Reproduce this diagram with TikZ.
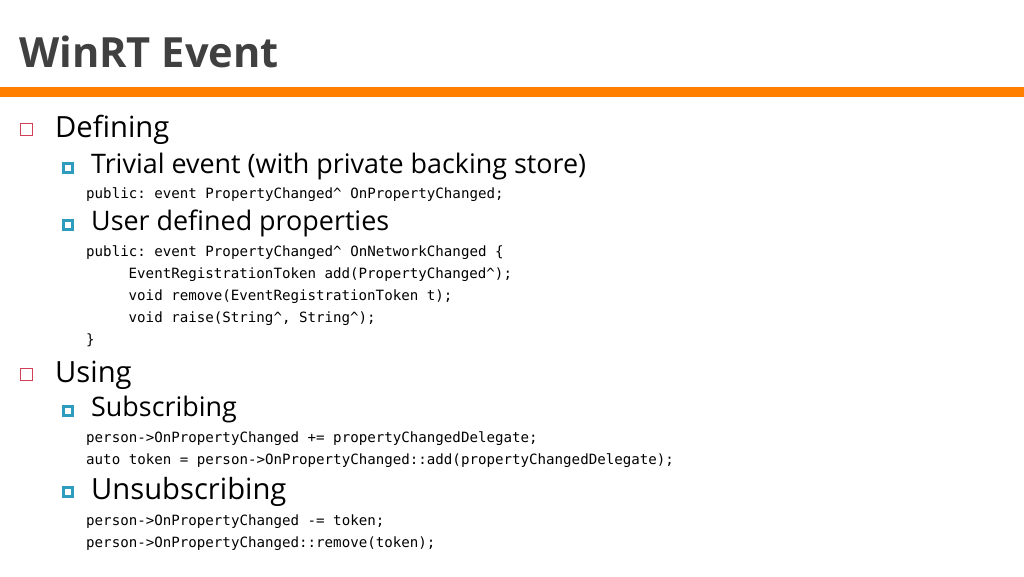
\documentclass[tikz,border=0pt]{standalone}
\usepackage{fontspec}
\setmainfont{Open Sans}
\setmonofont{DejaVu Sans Mono}
\definecolor{titlegray}{HTML}{404040}
\definecolor{barorange}{HTML}{FF8000}
\definecolor{bulred}{HTML}{D04058}
\definecolor{bulteal}{HTML}{2E9CBC}
\begin{document}
\begin{tikzpicture}[x=1pt,y=-1pt,
  lone/.style={anchor=base west,inner sep=0pt,font=\fontsize{29.2}{31}\selectfont},
  ltwo/.style={anchor=base west,inner sep=0pt,font=\fontsize{26.9}{29}\selectfont},
  codeline/.style={anchor=base west,inner sep=0pt,font=\ttfamily\fontsize{14.15}{16}\selectfont},
  redbul/.style={draw=bulred,line width=1.1pt},
  tealbul/.style={fill=bulteal}]
\useasboundingbox (0,0) rectangle (1024,576);
\fill[white] (0,0) rectangle (1024,576);
\node[anchor=base west,inner sep=0pt,text=titlegray,font=\bfseries\fontsize{41.6}{44}\selectfont] (title) at (19,67) {WinRT Event};
\fill[barorange] (0,87) rectangle (1024,96.5);
% level 1: Defining
\draw[redbul] (20.6,123.6) rectangle (32.4,135.4);
\node[lone] (defining) at (55,137) {Defining};
% level 2: Trivial
\fill[tealbul] (62,162) rectangle (74,174);
\fill[white] (65.3,165.3) rectangle (70.7,170.7);
\node[ltwo] (trivial) at (91,173) {Trivial event (with private backing store)};
\node[codeline] (c1) at (86,198) {public: event PropertyChanged\^{} OnPropertyChanged;};
% level 2: User defined
\fill[tealbul] (62,219) rectangle (74,231);
\fill[white] (65.3,222.3) rectangle (70.7,227.7);
\node[ltwo] (userdef) at (91,230) {User defined properties};
\node[codeline] (c2) at (86,256) {public: event PropertyChanged\^{} OnNetworkChanged \{};
\node[codeline] (c3) at (128.5,278) {EventRegistrationToken add(PropertyChanged\^{});};
\node[codeline] (c4) at (128.5,300) {void remove(EventRegistrationToken t);};
\node[codeline] (c5) at (128.5,322) {void raise(String\^{}, String\^{});};
\node[codeline] (c6) at (86,344) {\}};
% level 1: Using
\draw[redbul] (20.6,368.6) rectangle (32.4,380.4);
\node[lone] (using) at (55,382) {Using};
% Subscribing
\fill[tealbul] (62,405) rectangle (74,417);
\fill[white] (65.3,408.3) rectangle (70.7,413.7);
\node[ltwo] (subscr) at (91,416) {Subscribing};
\node[codeline] (c7) at (86,442) {person->OnPropertyChanged += propertyChangedDelegate;};
\node[codeline] (c8) at (86,464) {auto token = person->OnPropertyChanged::add(propertyChangedDelegate);};
% Unsubscribing
\fill[tealbul] (62,486) rectangle (74,498);
\fill[white] (65.3,489.3) rectangle (70.7,494.7);
\node[ltwo,font=\fontsize{29.2}{31}\selectfont] (unsubscr) at (91,499) {Unsubscribing};
\node[codeline] (c9) at (86,525) {person->OnPropertyChanged -= token;};
\node[codeline] (c10) at (86,547) {person->OnPropertyChanged::remove(token);};
\end{tikzpicture}
\end{document}
